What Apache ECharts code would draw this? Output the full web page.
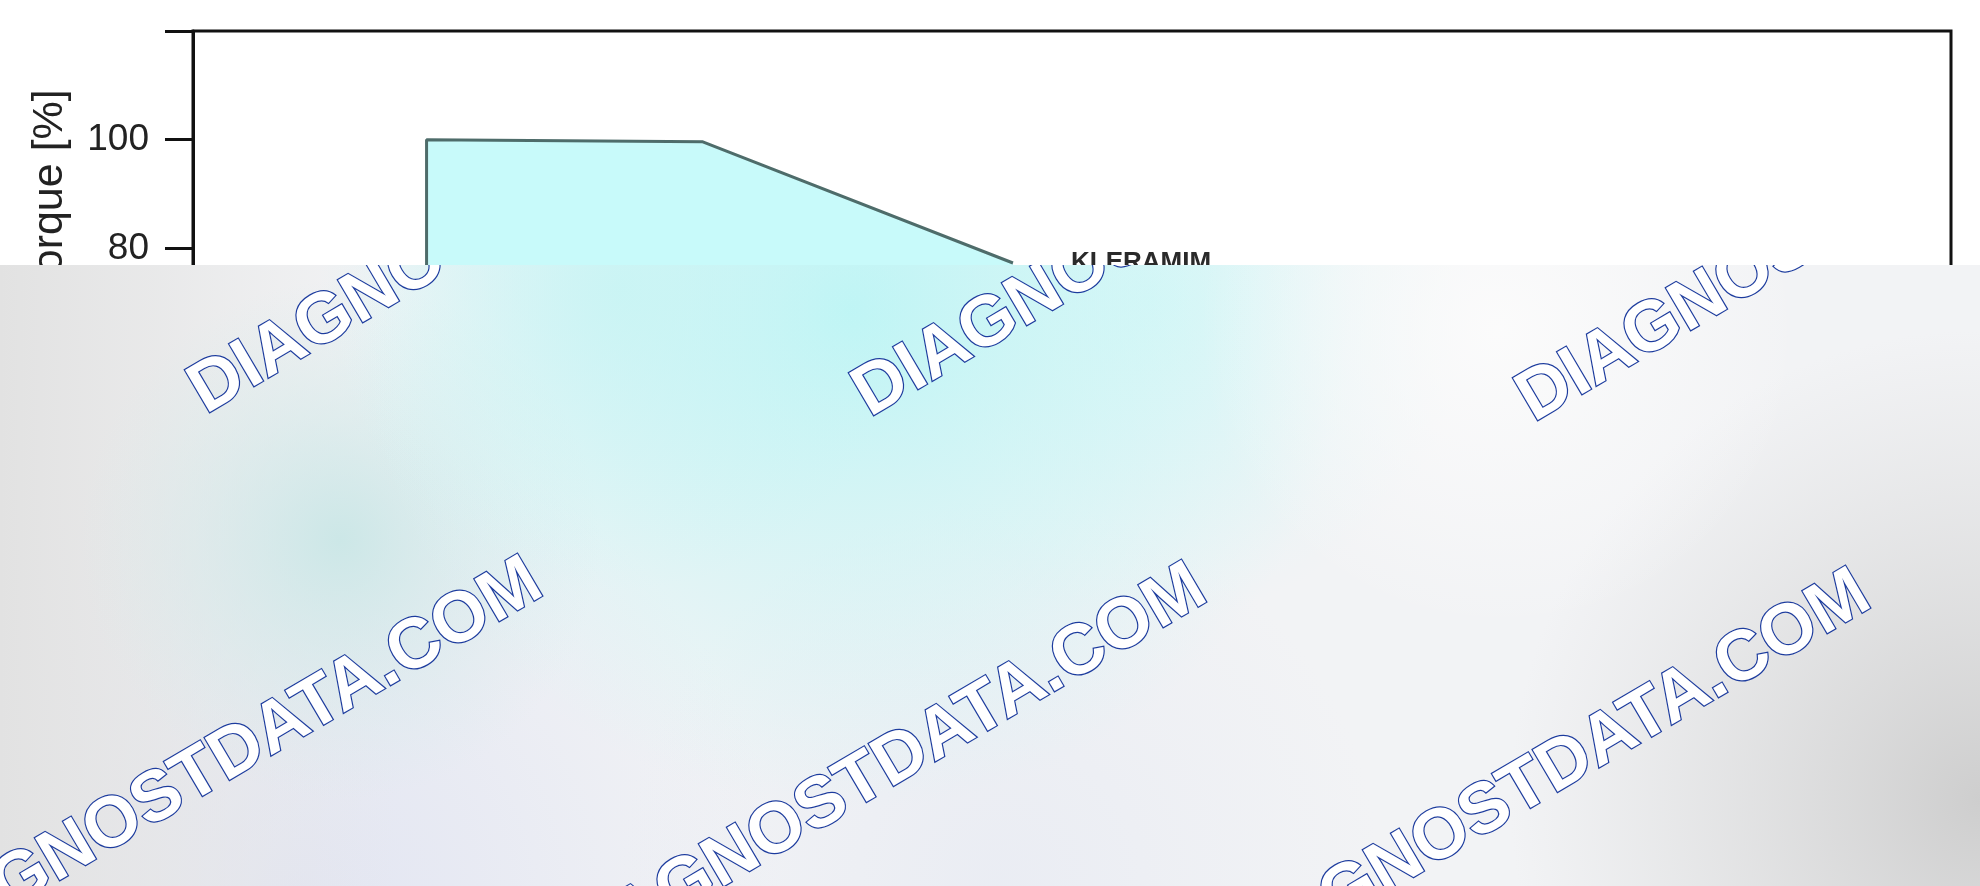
<!DOCTYPE html>
<html>
<head>
<meta charset="utf-8">
<script src="https://cdn.jsdelivr.net/npm/echarts@6/dist/echarts.min.js"></script>
<style>
html,body{margin:0;padding:0;background:#ffffff;}
#chart{width:1980px;height:886px;}
</style>
</head>
<body>
<div id="chart"></div>
<script>
// ---- data ----
const seriesName = 'KLERAMIM';
const speed  = [930, 930, 2030, 3265];     // x values (rpm)
const torque = [60, 100, 99.6, 77.3];      // torque [%]
const yTicks = [60, 80, 100, 120];
const yTickLabels = ['60', '80', '100', ''];
const yAxisTitle = 'Torque [%]';
const watermarkText = 'DIAGNOSTDATA.COM';

const points = speed.map((x, i) => [x, torque[i]]);
const FONT = '"Liberation Sans", Arial, Helvetica, sans-serif';

function overlay(params, api) {
  const cs = params.coordSys;
  const X = cs.x, Y = cs.y, W = cs.width, H = cs.height;
  const full = { x: X, y: Y, width: W, height: H };
  const radial = (cx, cy, r, c0, c1) => ({
    type: 'rect', shape: full,
    style: { fill: new echarts.graphic.RadialGradient(cx, cy, r, [
      { offset: 0, color: c0 }, { offset: 1, color: c1 }], true) }
  });
  const children = [
    { type: 'rect', shape: full, style: { fill: '#f2f3f5' } },
    radial(300, 900, 480, 'rgba(226,229,242,1)', 'rgba(226,229,242,0)'),
    radial(1000, 880, 380, 'rgba(232,235,243,0.8)', 'rgba(232,235,243,0)'),
    radial(1980, 800, 470, 'rgba(206,206,206,1)', 'rgba(214,214,214,0)'),
    { type: 'rect', shape: full, style: { fill: new echarts.graphic.LinearGradient(0, 0, 1, 0, [
      { offset: 0, color: 'rgba(226,226,226,1)' },
      { offset: 0.08, color: 'rgba(229,229,229,0.7)' },
      { offset: 0.2, color: 'rgba(232,232,232,0)' }]) } },
    radial(340, 540, 260, 'rgba(204,231,231,1)', 'rgba(215,235,235,0)'),
    radial(1150, 300, 320, 'rgba(214,248,248,0.8)', 'rgba(215,248,248,0)'),
    radial(850, 310, 500, 'rgba(190,245,245,1)', 'rgba(200,246,246,0)'),
    radial(620, 290, 300, 'rgba(196,244,244,0.7)', 'rgba(200,246,246,0)'),
    radial(1500, 330, 300, 'rgba(252,252,252,0.9)', 'rgba(252,252,252,0)')
  ];
  const ang = 30.5 * Math.PI / 180;
  const starts = [[209, 420], [873, 423], [1537, 428], [-94, 978], [570, 984], [1234, 990]];
  const off = 26;
  starts.forEach(s => {
    children.push({
      type: 'text',
      x: s[0] - off * Math.sin(ang),
      y: s[1] - off * Math.cos(ang),
      rotation: ang,
      style: {
        text: watermarkText, x: 0, y: 0,
        textAlign: 'left', align: 'left',
        textVerticalAlign: 'middle', verticalAlign: 'middle',
        font: 'bold 71px ' + FONT,
        fill: '#ffffff', stroke: '#1d3c9e', lineWidth: 2.4
      }
    });
  });
  return { type: 'group', children: children };
}

const chart = echarts.init(document.getElementById('chart'), null, { renderer: 'canvas' });
chart.setOption({
  animation: false,
  backgroundColor: '#ffffff',
  grid: [
    { left: 193, top: 31, width: 1758, height: 326, show: true, borderColor: '#111111', borderWidth: 3, backgroundColor: 'transparent' },
    { left: 0, top: 265, right: 0, bottom: 0, show: false }
  ],
  xAxis: [
    { type: 'value', gridIndex: 0, min: 0, max: 7000,
      axisLine: { show: true, lineStyle: { color: '#111', width: 3 } },
      axisTick: { show: false }, axisLabel: { show: false }, splitLine: { show: false } },
    { type: 'value', gridIndex: 1, min: 0, max: 1, show: false }
  ],
  yAxis: [
    { type: 'value', gridIndex: 0, min: yTicks[0], max: yTicks[yTicks.length - 1], interval: 20,
      name: yAxisTitle, nameLocation: 'middle', nameGap: 121,
      nameTextStyle: { fontSize: 43, color: '#222', fontFamily: FONT, padding: [0, 0, 0, 4] },
      axisLine: { show: true, lineStyle: { color: '#111', width: 3 } },
      axisTick: { show: true, inside: false, length: 28, lineStyle: { color: '#111', width: 3 } },
      axisLabel: { fontSize: 37, color: '#222', fontFamily: FONT, margin: 44,
        formatter: v => { const i = yTicks.indexOf(v); return i >= 0 ? yTickLabels[i] : ''; } },
      splitLine: { show: false } },
    { type: 'value', gridIndex: 1, min: 0, max: 1, show: false }
  ],
  series: [
    {
      name: seriesName, type: 'line', xAxisIndex: 0, yAxisIndex: 0,
      data: points, symbol: 'none', z: 2,
      lineStyle: { color: '#4e6c6a', width: 3 },
      areaStyle: { color: '#c8fafa', opacity: 1 },
      endLabel: { show: true, formatter: '{a}', distance: 58, fontSize: 26, fontWeight: 'bold', color: '#2a2a2a', fontFamily: FONT }
    },
    {
      type: 'custom', xAxisIndex: 1, yAxisIndex: 1, coordinateSystem: 'cartesian2d',
      clip: true, silent: true, z: 100,
      data: [[0, 0]],
      renderItem: overlay
    }
  ]
});
</script>
</body>
</html>
